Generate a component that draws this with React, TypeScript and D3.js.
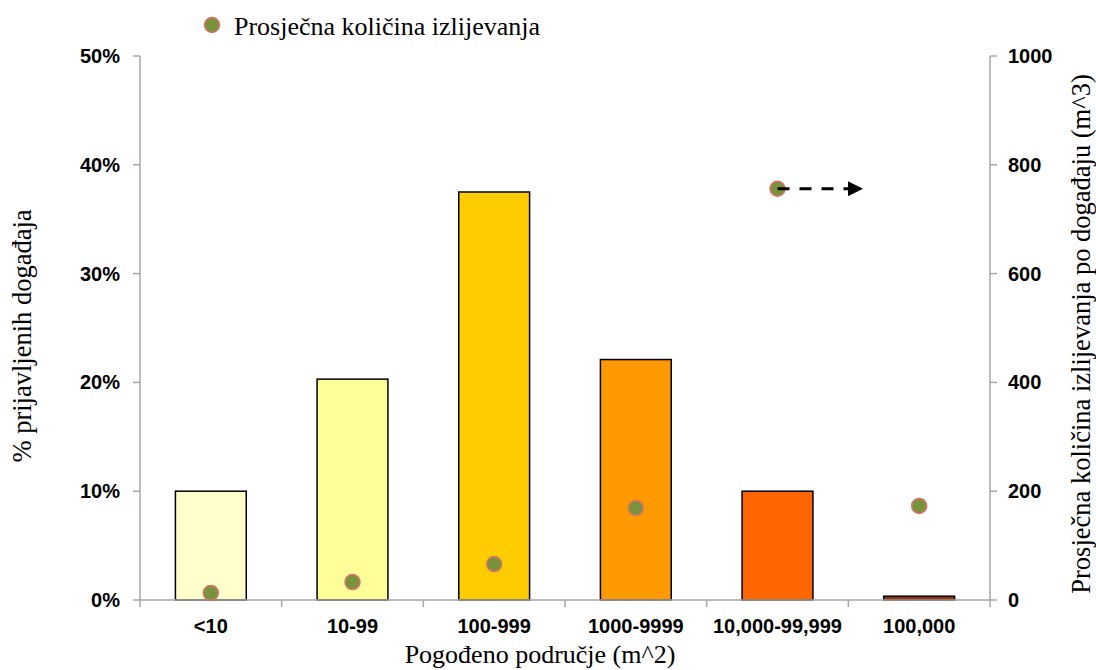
import React from "react";
import * as d3 from "d3";

const categories = ["<10", "10-99", "100-999", "1000-9999", "10,000-99,999", "100,000"];
const percentReported = [10.0, 20.3, 37.5, 22.1, 10.0, 0.35];
const avgSpill = [13, 33, 66, 169, 756, 173];
const barColors = ["#FFFFCC", "#FFFF99", "#FFCC00", "#FF9900", "#FF6600", "#993300"];
const leftTicks = [0, 10, 20, 30, 40, 50];
const rightTicks = [0, 200, 400, 600, 800, 1000];
const arrowCategory = "10,000-99,999";

const W = 1096, H = 670;
const m = { left: 140, right: 990, top: 56, bottom: 600 };
const SANS = "'Liberation Sans', Arial, sans-serif";
const SERIF = "'Liberation Serif', 'Times New Roman', serif";

export default function App() {
  const x = d3.scaleBand<string>().domain(categories).range([m.left, m.right]).paddingInner(0).paddingOuter(0);
  const yL = d3.scaleLinear().domain([0, 50]).range([m.bottom, m.top]);
  const yR = d3.scaleLinear().domain([0, 1000]).range([m.bottom, m.top]);
  const bw = x.bandwidth() * 0.5;
  const cx = (c: string) => (x(c) as number) + x.bandwidth() / 2;
  const boundaries = [...categories.map((c) => x(c) as number), m.right];
  const ai = categories.indexOf(arrowCategory);
  const ax = cx(arrowCategory), ay = yR(avgSpill[ai]);
  const axisGray = "#A6A6A6";
  return (
    <svg width={W} height={H} style={{ position: "absolute", left: 0, top: 0, background: "#fff" }}>
      <defs>
        <marker id="ah" viewBox="0 0 10 10" refX="9" refY="5" markerWidth="5" markerHeight="5" orient="auto">
          <path d="M0,0 L10,5 L0,10 z" fill="#000" />
        </marker>
      </defs>
      <line x1={m.left} x2={m.left} y1={m.top} y2={m.bottom} stroke={axisGray} strokeWidth={1.5} />
      <line x1={m.right} x2={m.right} y1={m.top} y2={m.bottom} stroke={axisGray} strokeWidth={1.5} />
      {leftTicks.map((t) => (
        <g key={"l" + t}>
          <line x1={m.left - 7} x2={m.left} y1={yL(t)} y2={yL(t)} stroke={axisGray} strokeWidth={1.5} />
          <text x={120} y={yL(t)} dy="0.35em" textAnchor="end" fontFamily={SANS} fontWeight="bold" fontSize={20}>{t}%</text>
        </g>
      ))}
      {rightTicks.map((t) => (
        <g key={"r" + t}>
          <line x1={m.right} x2={m.right + 7} y1={yR(t)} y2={yR(t)} stroke={axisGray} strokeWidth={1.5} />
          <text x={1008} y={yR(t)} dy="0.35em" textAnchor="start" fontFamily={SANS} fontWeight="bold" fontSize={20}>{t}</text>
        </g>
      ))}
      {categories.map((c, i) => (
        <rect key={c} x={cx(c) - bw / 2} y={yL(percentReported[i])} width={bw} height={m.bottom - yL(percentReported[i])}
          fill={barColors[i]} stroke="#000" strokeWidth={1.5} />
      ))}
      <line x1={m.left - 1} x2={m.right + 1} y1={m.bottom} y2={m.bottom} stroke={axisGray} strokeWidth={1.5} />
      {boundaries.map((b, i) => (
        <line key={"b" + i} x1={b} x2={b} y1={m.bottom} y2={m.bottom + 7} stroke={axisGray} strokeWidth={1.5} />
      ))}
      {categories.map((c) => (
        <text key={"t" + c} x={cx(c)} y={626} dy="0.35em" textAnchor="middle" fontFamily={SANS} fontWeight="bold" fontSize={20}>{c}</text>
      ))}
      {categories.map((c, i) => (
        <circle key={"d" + c} cx={cx(c)} cy={yR(avgSpill[i])} r={7.5} fill="#77933C" stroke="#E0706A" strokeWidth={1.5} />
      ))}
      <line x1={ax} y1={ay} x2={ax + 84} y2={ay} stroke="#000" strokeWidth={3} strokeDasharray="12,10" markerEnd="url(#ah)" />
      <circle cx={212} cy={25} r={7.5} fill="#77933C" stroke="#E0706A" strokeWidth={1.5} />
      <text x={234} y={26} dy="0.35em" fontFamily={SERIF} fontSize={26}>Prosječna količina izlijevanja</text>
      <text x={540} y={655} dy="0.3em" textAnchor="middle" fontFamily={SERIF} fontSize={26}>Pogođeno područje (m^2)</text>
      <text transform={`translate(22,336) rotate(-90)`} dy="0.35em" textAnchor="middle" fontFamily={SERIF} fontSize={26.5}>% prijavljenih događaja</text>
      <text transform={`translate(1081,334) rotate(-90)`} dy="0.35em" textAnchor="middle" fontFamily={SERIF} fontSize={26.5}>Prosječna količina izlijevanja po događaju (m^3)</text>
    </svg>
  );
}
